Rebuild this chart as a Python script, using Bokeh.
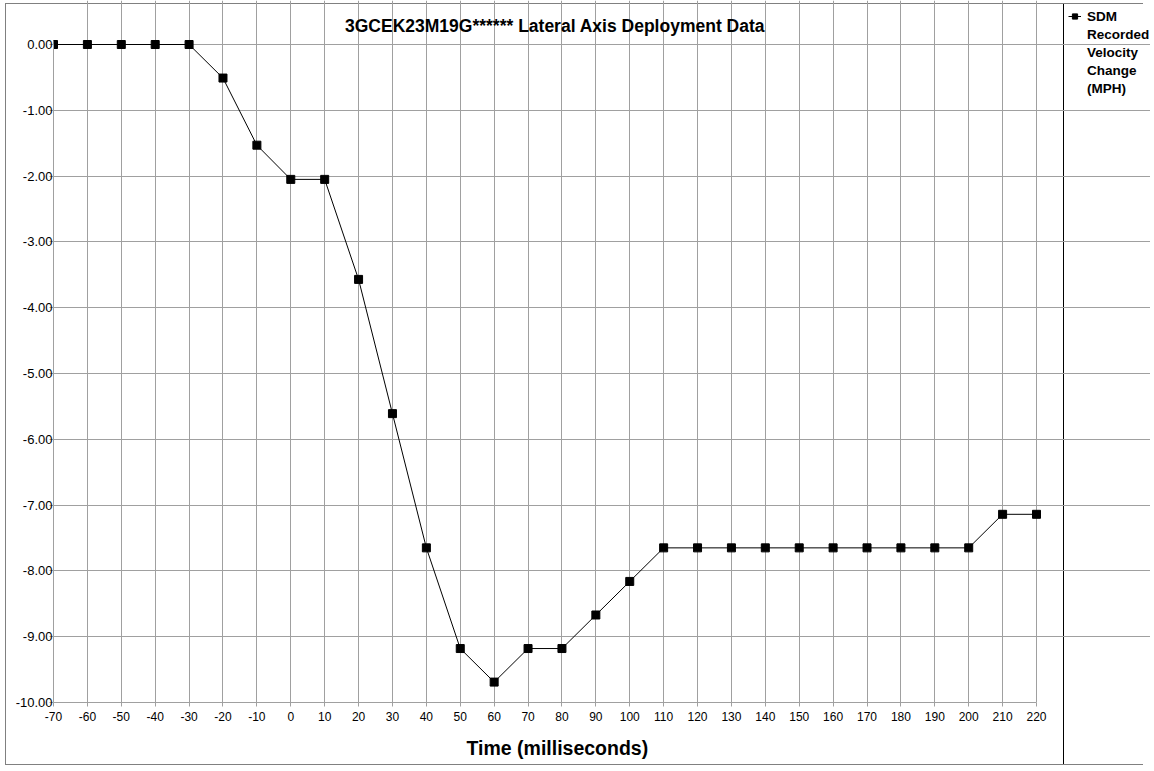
from bokeh.plotting import figure
from bokeh.models import (Range1d, FixedTicker, PrintfTickFormatter, Legend,
                          LegendItem, ColumnDataSource, Label, Title)
from bokeh.core.properties import value
from bokeh.embed import file_html
from bokeh.resources import INLINE

# ---------------- data ----------------
time_ms = [-70, -60, -50, -40, -30, -20, -10, 0, 10, 20, 30, 40, 50, 60, 70,
           80, 90, 100, 110, 120, 130, 140, 150, 160, 170, 180, 190, 200, 210, 220]
velocity = [0.00, 0.00, 0.00, 0.00, 0.00, -0.51, -1.53, -2.05, -2.05, -3.57,
            -5.61, -7.65, -9.18, -9.69, -9.18, -9.18, -8.67, -8.16, -7.65, -7.65,
            -7.65, -7.65, -7.65, -7.65, -7.65, -7.65, -7.65, -7.65, -7.14, -7.14]
x_ticks = [-70, -60, -50, -40, -30, -20, -10, 0, 10, 20, 30, 40, 50, 60, 70,
           80, 90, 100, 110, 120, 130, 140, 150, 160, 170, 180, 190, 200, 210, 220]
y_ticks = [0, -1, -2, -3, -4, -5, -6, -7, -8, -9, -10]
title_text = "3GCEK23M19G******  Lateral Axis Deployment Data"
x_title = "Time (milliseconds)"
legend_lines = ["SDM", "Recorded", "Velocity", "Change", "(MPH)"]

# ---------------- layout constants (pixels) ----------------
FONT = "Liberation Sans"
GRID = "#a0a0a0"
BORDER = "#808080"
W, H = 1150, 771
X_MIN, X_MAX = -70, 220          # plotted axis extent
Y_MIN, Y_MAX = -10, 0
PA_L, PA_R, PA_T, PA_B = 53, 1036, 44, 702   # plot-area edges on the canvas

px_x = (PA_R - PA_L) / (X_MAX - X_MIN)
px_y = (PA_B - PA_T) / (Y_MAX - Y_MIN)
# the frame reaches the canvas' top and right edges so that the title and
# the legend (which sit outside the plotted box) are not clipped
x_end = X_MAX + (W - PA_R) / px_x
y_end = Y_MAX + PA_T / px_y

def at_x(px):
    return X_MIN + (px - PA_L) / px_x

def at_y(py):
    return Y_MAX - (py - PA_T) / px_y

# outer chart box and legend separator, drawn as CSS background layers
bg = ", ".join([
    f"linear-gradient({BORDER},{BORDER}) 5px 3px / 1138px 1px no-repeat",
    f"linear-gradient({BORDER},{BORDER}) 5px 3px / 1px 762px no-repeat",
    f"linear-gradient({BORDER},{BORDER}) 5px 764px / 1138px 1px no-repeat",
    "linear-gradient(#000000,#000000) 1063px 3px / 1px 762px no-repeat",
    "#ffffff",
])

p = figure(width=W, height=H, output_backend="svg", toolbar_location=None,
           title=None,
           x_range=Range1d(X_MIN, x_end), y_range=Range1d(Y_MIN, y_end),
           min_border_left=PA_L, min_border_right=0,
           min_border_top=0, min_border_bottom=H - PA_B,
           background_fill_color=None, border_fill_color=None,
           styles={"background": bg})
p.outline_line_color = None

# axes
for ax in (p.xaxis[0], p.yaxis[0]):
    ax.axis_line_color = GRID
    ax.major_tick_line_color = GRID
    ax.major_tick_out = 4
    ax.major_tick_in = 0
    ax.minor_tick_line_color = None
    ax.major_label_text_font = FONT
    ax.major_label_text_color = "black"
p.xaxis.bounds = (X_MIN, X_MAX)
p.yaxis.bounds = (Y_MIN, Y_MAX)
p.xaxis.ticker = FixedTicker(ticks=x_ticks)
p.yaxis.ticker = FixedTicker(ticks=y_ticks)
p.xaxis.formatter = PrintfTickFormatter(format="%d")
p.yaxis.formatter = PrintfTickFormatter(format="%.2f")
p.xaxis.major_label_text_font_size = "12px"
p.yaxis.major_label_text_font_size = "13px"
p.xaxis.major_label_standoff = 5
p.yaxis.major_label_standoff = -3

p.xgrid.grid_line_color = GRID
p.ygrid.grid_line_color = GRID
p.xgrid.ticker = FixedTicker(ticks=x_ticks)
p.ygrid.ticker = FixedTicker(ticks=y_ticks)
p.xgrid.bounds = (Y_MIN, Y_MAX)
p.ygrid.bounds = (X_MIN, X_MAX)

# x-axis title (left-aligned with an offset so that it sits where the reference has it)
xt = Title(text=x_title, align="left", offset=466 - PA_L,
           text_font=FONT, text_font_size="19.5px", text_font_style="bold",
           text_color="black", standoff=22)
p.add_layout(xt, "below")

# chart title
p.add_layout(Label(x=at_x(557), y=at_y(25), text=title_text,
                   text_font=FONT, text_font_size="17.5px", text_font_style="bold",
                   text_color="black", text_align="center", text_baseline="middle"))

# data
src = ColumnDataSource(dict(t=time_ms, v=velocity))
line_r = p.line("t", "v", source=src, line_color="black", line_width=1)
mark_r = p.scatter("t", "v", source=src, marker="square", size=8,
                   fill_color="black", line_color="black")
blank = p.scatter([], [], alpha=0)

items = [LegendItem(label=value(legend_lines[0]), renderers=[line_r, mark_r])]
for txt in legend_lines[1:]:
    items.append(LegendItem(label=value(txt), renderers=[blank]))

legend = Legend(items=items, location=(1068 - PA_L, PA_B - 97),
                padding=0, margin=0, spacing=0,
                border_line_color=None, background_fill_alpha=0,
                glyph_width=13, glyph_height=18, label_height=18,
                label_standoff=6,
                label_text_font=FONT, label_text_font_size="13.5px",
                label_text_font_style="bold", label_text_color="black")
p.add_layout(legend)

open("out.html", "w").write(file_html(p, INLINE))
